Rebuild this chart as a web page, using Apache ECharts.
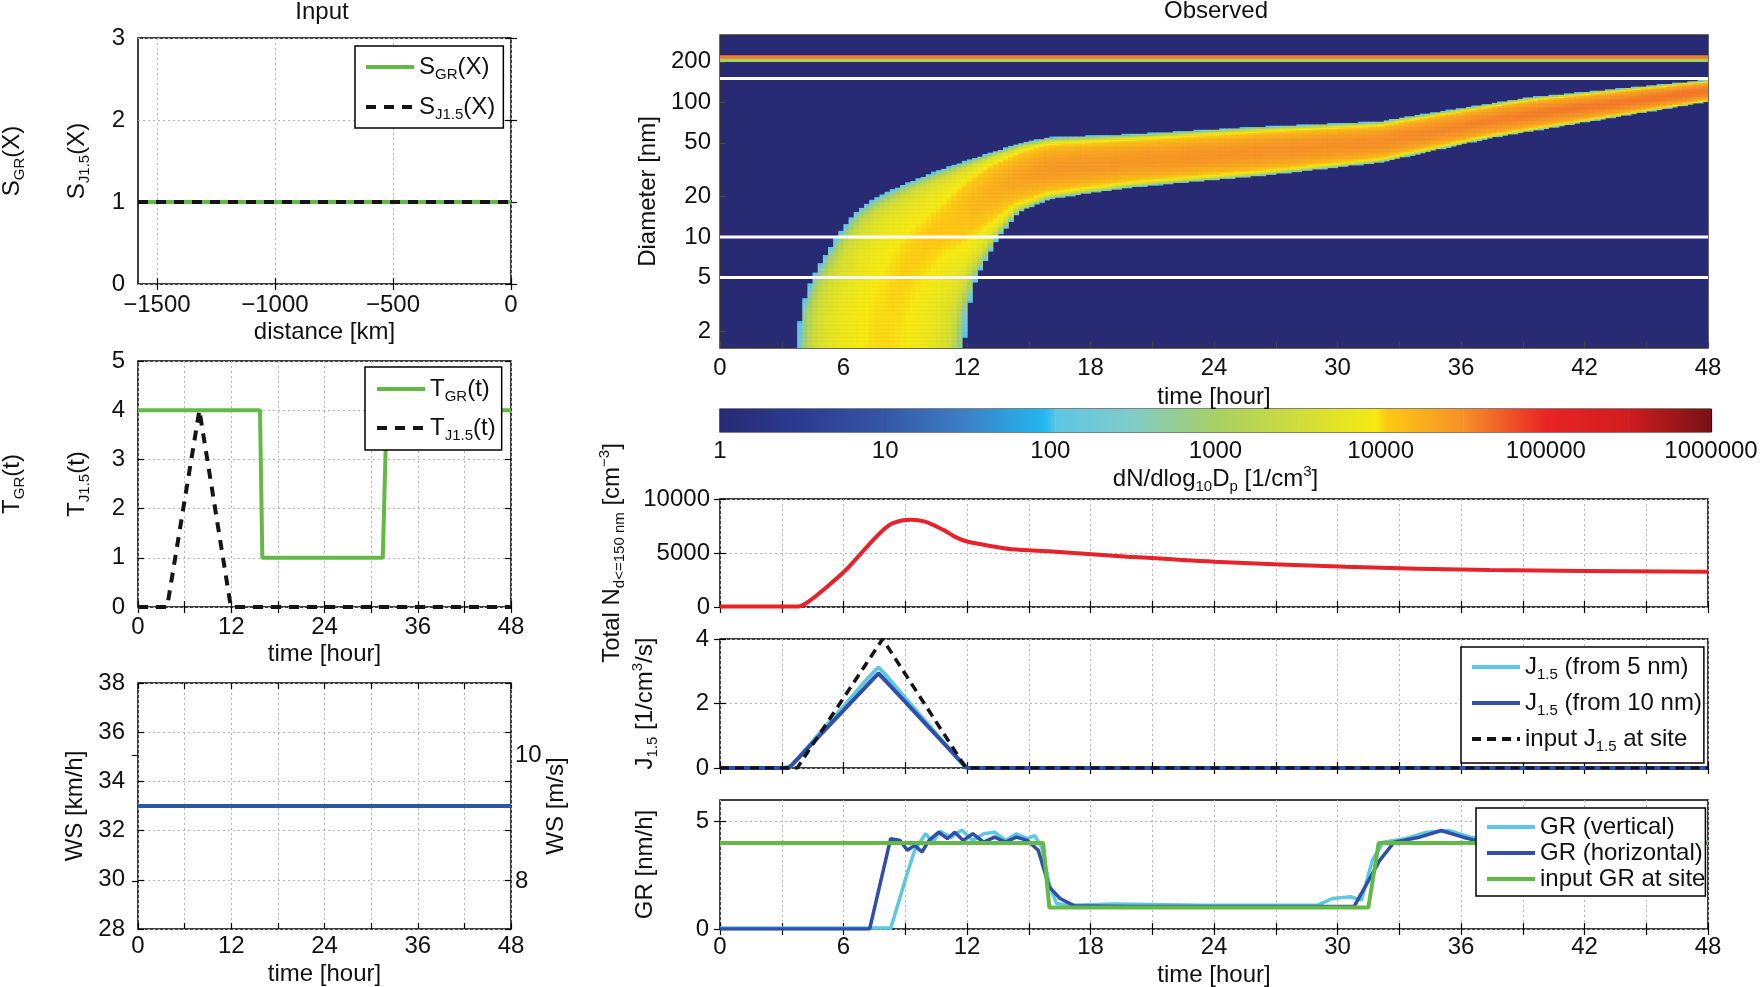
<!DOCTYPE html>
<html><head><meta charset="utf-8">
<script src="https://cdn.jsdelivr.net/npm/echarts@6/dist/echarts.min.js"></script>
<style>html,body{margin:0;padding:0;background:#fff}#c{width:1760px;height:987px}</style>
</head><body><div id="c"></div>
<script>
// ================= DATA =================
// Input panel 1: S(X)
const distanceMin = -1580;
const distanceTicks = [-1500, -1000, -500, 0];
const sGRDistance = [-1580, 0];
const sGRValues = [1, 1];
const sJDistance = [-1580, 0];
const sJValues = [1, 1];
// Input panel 2: T(t)  (also the "input at site" curves)
const inputGRHours = [0, 15.7, 16.0, 31.5, 32.0, 48];
const inputGRValues = [4, 4, 1, 1, 4, 4];
const inputJHours = [0, 3.75, 7.9, 11.95, 48];
const inputJValues = [0, 0, 4, 0, 0];
// Input panel 3: wind speed
const wsHours = [0, 48];
const wsKmh = [33, 33];
const wsMsTicks = [8, 10];
// Observed: banana edges (hour, diameter nm)
const upperEdgeHours = [3.8, 3.9, 4.5, 5.65, 6.6, 7.5, 8.75, 10.3, 11.75, 13.2, 14.75, 16.0, 19.9, 26.2, 32.05, 33.1, 39.3, 48.2];
const upperEdgeDiam  = [1.4, 2.8, 5.1, 10, 15.4, 19.3, 24, 30, 36, 42.6, 50.6, 55, 58, 66, 72, 77, 109, 148];
const lowerEdgeHours = [11.8, 12.0, 12.45, 13.5, 14.5, 16.0, 19.9, 26.2, 32.05, 37.5, 48.2];
const lowerEdgeDiam  = [1.4, 2.8, 5.1, 10, 15.4, 19.3, 23.5, 28.6, 36, 55, 103];
const ridgePeakHours = [0, 8, 11, 14, 16, 24, 32, 40, 48];
const ridgePeakLog   = [3.98, 4.0, 4.05, 4.3, 4.42, 4.45, 4.5, 4.58, 4.62];
const modeBandDiam = [201, 213, 224];
const modeBandLog = [3.0, 4.6];
const whiteLineDiam = [5, 10, 150];
const diamTicks = [2, 5, 10, 20, 50, 100, 200];
const diamMin = 1.5, diamMax = 316;
// colour scale (log10 dN/dlogDp)
const cbarPos    = [0, 0.5, 1, 1.5, 1.97, 2.03, 2.5, 3, 3.5, 3.97, 4.03, 4.5, 5, 5.5, 6];
const cbarColors = ['#282a73','#2b3c92','#3656a8','#3c82c8','#22b8f0','#5ec6e4','#80ccc8','#a8d064','#cfdc3a','#f6ea12','#fdca14','#f69028','#ea2424','#d01c20','#761214'];
// Total N
const totalNHours  = [0, 3.8, 4.3, 5.0, 6.1, 7.15, 7.85, 8.4, 9.26, 9.96, 10.85, 11.4, 12.0, 13.5, 14.2, 16.3, 19.8, 24.0, 30.4, 37.4, 48];
const totalNValues = [50, 50, 500, 1550, 3400, 5600, 7000, 7760, 8070, 7900, 7140, 6520, 6060, 5530, 5340, 5120, 4660, 4190, 3730, 3420, 3260];
// J1.5
const j5Hours  = [0, 3.1, 3.5, 4, 5, 6, 7, 7.5, 7.7, 8, 9, 10, 11, 11.8, 12, 48];
const j5Values = [0, 0, 0.08, 0.45, 1.2, 1.9, 2.65, 3.0, 3.12, 2.92, 2.17, 1.43, 0.69, 0.1, 0, 0];
const j10Hours  = [0, 3.35, 4, 5, 6, 7, 7.5, 7.7, 8, 9, 10, 11, 12, 48];
const j10Values = [0, 0, 0.44, 1.11, 1.79, 2.46, 2.8, 2.93, 2.73, 2.05, 1.36, 0.68, 0, 0];
// GR
const grVertHours  = [0, 8.3, 9.1, 9.46, 9.99, 10.34, 10.69, 11.22, 11.75, 12.28, 12.81, 13.34, 13.87, 14.4, 14.93, 15.28, 15.63, 15.99, 16.34, 17.05, 19.16, 23.4, 29.05, 29.75, 30.63, 31.16, 31.69, 32.22, 33.28, 34.34, 35.4, 36.46, 38, 42, 48];
const grVertValues = [0.05, 0.05, 2.6, 3.66, 4.43, 4.04, 4.55, 4.27, 4.61, 4.12, 4.43, 4.5, 4.12, 4.43, 4.2, 4.35, 3.81, 2.11, 1.19, 1.11, 1.16, 1.11, 1.11, 1.42, 1.5, 1.34, 3.19, 4.04, 4.2, 4.5, 4.58, 4.27, 4.2, 4.1, 4.05];
const grHorHours  = [0, 7.27, 8.29, 8.75, 9.1, 9.46, 9.81, 10.16, 10.62, 11.05, 11.4, 11.82, 12.28, 12.81, 13.34, 13.87, 14.4, 14.93, 15.46, 15.99, 16.52, 17.22, 19.87, 26.93, 30.81, 31.34, 32.05, 32.75, 33.99, 35.04, 36.1, 36.7, 40, 48];
const grHorValues = [0, 0, 4.2, 4.12, 3.66, 3.89, 3.58, 4.12, 4.5, 4.2, 4.5, 4.12, 4.43, 4.04, 4.27, 4.04, 4.27, 4.12, 3.66, 1.96, 1.42, 1.08, 1.05, 1.05, 1.05, 1.96, 3.19, 4.04, 4.27, 4.58, 4.27, 4.12, 4.0, 4.0];

// ================= HELPERS =================
const FONT = '"Liberation Sans", Arial, Helvetica, sans-serif';
const FS = 24;
const GREEN = '#62b946', BLACK = '#151515', CYAN = '#5cc8e2', BLUE = '#2f4fa8', RED = '#e8222a', WSBLUE = '#2f56a6';
const pairs = (xs, ys) => xs.map((x, i) => [x, ys[i]]);
const L10 = Math.log10;
const LOG_MIN = L10(diamMin), LOG_MAX = L10(diamMax);

function hex2rgb(h){return [parseInt(h.substr(1,2),16),parseInt(h.substr(3,2),16),parseInt(h.substr(5,2),16)];}
const cbarRgb = cbarColors.map(hex2rgb);
function cmap(v){
  if (v <= cbarPos[0]) return cbarColors[0];
  for (let i = 0; i < cbarPos.length - 1; i++) {
    if (v <= cbarPos[i+1]) {
      const f = (v - cbarPos[i]) / (cbarPos[i+1] - cbarPos[i]);
      const a = cbarRgb[i], b = cbarRgb[i+1];
      return 'rgb(' + [0,1,2].map(k => Math.round(a[k] + (b[k]-a[k])*f)).join(',') + ')';
    }
  }
  return cbarColors[cbarColors.length-1];
}
function interp(xs, ys, x){
  if (x <= xs[0]) return ys[0];
  for (let i = 0; i < xs.length-1; i++) if (x <= xs[i+1]) return ys[i] + (ys[i+1]-ys[i])*(x-xs[i])/(xs[i+1]-xs[i]);
  return ys[ys.length-1];
}
// banana cells (value field derived from the read edges)
const KX = 988/48, KY = 313/(LOG_MAX-LOG_MIN);
const toPx = (h, d) => [h*KX, L10(d)*KY];
const upperPx = upperEdgeHours.map((h,i)=>toPx(h, upperEdgeDiam[i]));
const lowerPx = lowerEdgeHours.map((h,i)=>toPx(h, lowerEdgeDiam[i]));
const polyPx = upperPx.concat(lowerPx.slice().reverse());
function segDist(p,a,b){
  const dx=b[0]-a[0], dy=b[1]-a[1];
  let t=((p[0]-a[0])*dx+(p[1]-a[1])*dy)/(dx*dx+dy*dy); t=Math.max(0,Math.min(1,t));
  const x=a[0]+t*dx-p[0], y=a[1]+t*dy-p[1]; return Math.sqrt(x*x+y*y);
}
function lineDist(p, pts){let m=1e9; for(let i=0;i<pts.length-1;i++) m=Math.min(m,segDist(p,pts[i],pts[i+1])); return m;}
function inside(p, poly){
  let c=false;
  for(let i=0,j=poly.length-1;i<poly.length;j=i++){
    const a=poly[i], b=poly[j];
    if(((a[1]>p[1])!==(b[1]>p[1])) && (p[0] < (b[0]-a[0])*(p[1]-a[1])/(b[1]-a[1])+a[0])) c=!c;
  }
  return c;
}
const DT = 0.25, DL = 0.01;
const heatCells = [];
for (let i = 0; i < 48/DT; i++) {
  const h = i*DT;
  const hc = h + DT/2;
  const peak = interp(ridgePeakHours, ridgePeakLog, hc);
  for (let lg = LOG_MIN; lg < LOG_MAX; lg += DL) {
    const p = [hc*KX, (lg+DL/2)*KY];
    if (!inside(p, polyPx)) continue;
    const dU = lineDist(p, upperPx), dLo = lineDist(p, lowerPx);
    const u = Math.abs(dU - dLo)/(dU + dLo);
    const v = peak - 0.6*u*u - (peak - 2.6)*Math.pow(u, 12);
    heatCells.push([h, lg, h+DT, Math.min(lg+DL, LOG_MAX), v]);
  }
}
for (let k = 0; k < modeBandLog.length; k++) {
  heatCells.push([0, L10(modeBandDiam[k]), 48, L10(modeBandDiam[k+1]), modeBandLog[k]]);
}
const cbarSegments = cbarPos.slice(0,-1).map((p,i)=>[p, cbarPos[i+1], i]);

// ================= STYLE HELPERS =================
const rich = {
  sub: {fontSize: 15, lineHeight: 12, verticalAlign: 'bottom', fontFamily: FONT, color: '#111'},
  sup: {fontSize: 15, lineHeight: 12, verticalAlign: 'top', fontFamily: FONT, color: '#111'}
};
const txt = () => ({fontSize: FS, fontFamily: FONT, color: '#111', lineHeight: 30, rich});
const lbl = (extra) => Object.assign({color: '#111', fontSize: FS, fontFamily: FONT, margin: 9, formatter: v => String(v)}, extra||{});
const tick = {show: true, inside: true, length: 6, lineStyle: {color: '#000', width: 1.2}};
const dotted = {show: true, lineStyle: {color: '#b5b5b5', type: [2, 3], width: 1}};
const noLine = {show: false};
const gridBase = {show: true, borderColor: '#000', borderWidth: 1.5, backgroundColor: 'transparent', outerBoundsMode: 'none', containLabel: false};

function xTime(grid, showLabels, labelEvery, tickEvery, name, nameGap, margin){
  return {type: 'value', gridIndex: grid, min: 0, max: 48, interval: tickEvery,
    axisLine: noLine, axisTick: tick, splitLine: dotted,
    axisLabel: lbl({show: showLabels, margin: margin||9, formatter: v => (v % labelEvery === 0 ? String(v) : '')}),
    name: name||'', nameLocation: 'middle', nameGap: nameGap||33, nameTextStyle: txt(), nameMoveOverlap: false};
}
function yVal(grid, min, max, interval, name, nameGap, extra){
  return Object.assign({type: 'value', gridIndex: grid, min, max, interval,
    axisLine: noLine, axisTick: tick, splitLine: dotted,
    axisLabel: lbl({margin: 13}),
    name: name||'', nameLocation: 'middle', nameRotate: 90, nameGap: nameGap||50, nameTextStyle: txt(), nameMoveOverlap: false}, extra||{});
}
function yNameOnly(grid, min, max, name, nameGap){
  return {type: 'value', gridIndex: grid, min, max, position: 'left',
    axisLine: noLine, axisTick: noLine, axisLabel: noLine, splitLine: noLine,
    name, nameLocation: 'middle', nameRotate: 90, nameGap, nameTextStyle: txt(), nameMoveOverlap: false};
}
// mirrored tick marks on the top / right edges of a box
function mirror(kind, grid, min, max, interval, customValues){
  const t = Object.assign({}, tick, customValues ? {customValues} : {});
  return {type: 'value', gridIndex: grid, position: kind === 'x' ? 'top' : 'right', min, max, interval: interval || null,
    axisLine: noLine, axisLabel: {show: false}, splitLine: noLine, axisTick: t, name: ''};
}
function legend(left, top, padding, itemGap, names, labels, lineH){
  return {orient: 'vertical', left, top, padding, itemGap, itemWidth: 48, itemHeight: 14, z: 20,
    backgroundColor: '#fff', borderColor: '#000', borderWidth: 1.5, borderRadius: 0,
    selectedMode: false, data: names, formatter: n => labels[n],
    lineStyle: {width: 4}, itemStyle: {opacity: 0, borderWidth: 0},
    textStyle: {fontSize: FS, fontFamily: FONT, color: '#111', lineHeight: lineH||30, rich}};
}
const lineS = (name, xi, yi, data, color, width, type, z, smooth) => ({type: 'line', name, xAxisIndex: xi, yAxisIndex: yi,
  data, symbol: 'none', showSymbol: false, smooth: smooth || false, lineStyle: {color, width, type: type||'solid'}, itemStyle: {color, opacity: 0}, z: z||3, animation: false});

// ================= OPTION =================
const option = {
  animation: false,
  backgroundColor: '#fff',
  textStyle: {fontFamily: FONT},
  graphic: [
    {type: 'text', x: 322, y: 12, style: {text: 'Input', font: FS + 'px ' + FONT, fill: '#111', textAlign: 'center', textVerticalAlign: 'middle'}},
    {type: 'text', x: 1216, y: 11, style: {text: 'Observed', font: FS + 'px ' + FONT, fill: '#111', textAlign: 'center', textVerticalAlign: 'middle'}}
  ],
  grid: [
    Object.assign({left: 138, top: 38, width: 373, height: 246}, gridBase),
    Object.assign({left: 138, top: 361, width: 373, height: 246}, gridBase),
    Object.assign({left: 138, top: 683, width: 373, height: 246}, gridBase),
    Object.assign({}, gridBase, {left: 720, top: 35, width: 988, height: 313, backgroundColor: cbarColors[0], borderColor: '#333'}),
    Object.assign({}, gridBase, {left: 720, top: 409, width: 991, height: 23, borderWidth: 1.2}),
    Object.assign({left: 720, top: 499, width: 988, height: 108}, gridBase),
    Object.assign({left: 720, top: 639, width: 988, height: 129}, gridBase),
    Object.assign({left: 720, top: 800, width: 988, height: 129}, gridBase)
  ],
  xAxis: [
    {type: 'value', gridIndex: 0, min: distanceMin, max: 0,
      axisLine: noLine, axisTick: Object.assign({customValues: distanceTicks}, tick), splitLine: dotted,
      axisLabel: lbl({customValues: distanceTicks, margin: 9, formatter: v => v < 0 ? '\u2212' + Math.abs(v) : String(v)}),
      name: 'distance [km]', nameLocation: 'middle', nameGap: 33, nameTextStyle: txt(), nameMoveOverlap: false},
    xTime(1, true, 12, 6, 'time [hour]', 32, 8),
    xTime(2, true, 12, 6, 'time [hour]', 30, 5),
    Object.assign(xTime(3, true, 6, 3, 'time [hour]', 34, 8), {splitLine: noLine, axisTick: {show: true, inside: true, length: 6, lineStyle: {color: '#444', width: 1.2}}}),
    {type: 'value', gridIndex: 4, min: 0, max: 6, interval: 1, axisLine: noLine, axisTick: noLine,
      splitLine: {show: true, lineStyle: {color: '#000', width: 1.2}},
      axisLabel: lbl({margin: 7, formatter: v => String(Math.round(Math.pow(10, v)))}),
      name: 'dN/dlog{sub|10}D{sub|p} [1/cm{sup|3}]', nameLocation: 'middle', nameGap: 32, nameTextStyle: txt(), nameMoveOverlap: false},
    xTime(5, false, 6, 3),
    xTime(6, false, 6, 3),
    xTime(7, true, 6, 3, 'time [hour]', 31, 6),
    // mirrored top ticks
    mirror('x', 0, distanceMin, 0, null, distanceTicks),
    mirror('x', 1, 0, 48, 6),
    mirror('x', 2, 0, 48, 6),
    mirror('x', 5, 0, 48, 3),
    mirror('x', 6, 0, 48, 3),
    mirror('x', 7, 0, 48, 3)
  ],
  yAxis: [
    yVal(0, 0, 3, 1, 'S{sub|J1.5}(X)', 46),
    yNameOnly(0, 0, 3, 'S{sub|GR}(X)', 111),
    yVal(1, 0, 5, 1, 'T{sub|J1.5}(t)', 46),
    yNameOnly(1, 0, 5, 'T{sub|GR}(t)', 111),
    yVal(2, 28, 38, 2, 'WS [km/h]', 48),
    {type: 'value', gridIndex: 2, position: 'right', min: 7.236, max: 11.15,
      axisLine: noLine, axisTick: Object.assign({customValues: wsMsTicks}, tick), splitLine: noLine,
      axisLabel: lbl({customValues: wsMsTicks, margin: 4}),
      name: 'WS [m/s]', nameLocation: 'middle', nameRotate: 90, nameGap: 30, nameTextStyle: txt(), nameMoveOverlap: false},
    {type: 'value', gridIndex: 3, min: LOG_MIN, max: LOG_MAX,
      axisLine: noLine, axisTick: {show: true, inside: true, length: 6, customValues: diamTicks.map(L10), lineStyle: {color: '#444', width: 1.2}},
      splitLine: noLine,
      axisLabel: lbl({customValues: diamTicks.map(L10), margin: 9, formatter: v => String(Math.round(Math.pow(10, v)))}),
      name: 'Diameter [nm]', nameLocation: 'middle', nameRotate: 90, nameGap: 57, nameTextStyle: txt(), nameMoveOverlap: false},
    {type: 'value', gridIndex: 4, min: 0, max: 1, show: false},
    yVal(5, 0, 10000, 5000, 'Total N{sub|d<=150 nm} [cm{sup|\u22123}]', 93, {axisLabel: lbl({margin: 10})}),
    yVal(6, 0, 4, 2, 'J{sub|1.5} [1/cm{sup|3}/s]', 60, {axisLabel: lbl({margin: 11})}),
    Object.assign(yVal(7, 0, 6, 1, 'GR [nm/h]', 60, {axisLabel: lbl({margin: 11, customValues: [0, 5]})}),
      {interval: null, axisTick: Object.assign({customValues: [0, 5]}, tick)}),
    // mirrored right ticks
    mirror('y', 0, 0, 3, 1),
    mirror('y', 1, 0, 5, 1),
    mirror('y', 2, 28, 38, 2),
    mirror('y', 5, 0, 10000, 5000),
    mirror('y', 6, 0, 4, 2),
    mirror('y', 7, 0, 6, null, [0, 5])
  ],
  legend: [
    legend(355, 46, [6, 8, 6, 9], 10, ['sgr', 'sj'], {sgr: 'S{sub|GR}(X)', sj: 'S{sub|J1.5}(X)'}),
    legend(365, 367, [7, 6, 7, 10], 9, ['tgr', 'tj'], {tgr: 'T{sub|GR}(t)', tj: 'T{sub|J1.5}(t)'}),
    legend(1461, 647, [5, 2, 9, 9], 6, ['j5', 'j10', 'jin'], {j5: 'J{sub|1.5} (from 5 nm)', j10: 'J{sub|1.5} (from 10 nm)', jin: 'input J{sub|1.5} at site'}),
    legend(1476, 808, [6, 0, 4, 9], 0, ['grv', 'grh', 'grin'], {grv: 'GR (vertical)', grh: 'GR (horizontal)', grin: 'input GR at site'}, 26)
  ],
  series: [
    lineS('sgr', 0, 0, pairs(sGRDistance, sGRValues), GREEN, 4),
    lineS('sj', 0, 0, pairs(sJDistance, sJValues), BLACK, 4, [10, 8], 4),
    lineS('tgr', 1, 2, pairs(inputGRHours, inputGRValues), GREEN, 4),
    lineS('tj', 1, 2, pairs(inputJHours, inputJValues), BLACK, 4, [10, 8], 4),
    lineS('ws', 2, 4, pairs(wsHours, wsKmh), WSBLUE, 4),
    {type: 'custom', name: 'heat', xAxisIndex: 3, yAxisIndex: 6, data: heatCells, clip: true, progressive: 0, animation: false, z: 2,
      encode: {x: [0, 2], y: [1, 3]},
      renderItem: (params, api) => {
        const a = api.coord([api.value(0), api.value(3)]);
        const b = api.coord([api.value(2), api.value(1)]);
        return {type: 'rect', shape: {x: a[0], y: a[1], width: b[0]-a[0]+0.6, height: b[1]-a[1]+0.6},
          style: {fill: cmap(api.value(4))}};
      }},
    ...whiteLineDiam.map((d, i) => lineS('wl' + i, 3, 6, [[0, L10(d)], [48, L10(d)]], '#ffffff', 3, 'solid', 5)),
    {type: 'custom', name: 'cbar', xAxisIndex: 4, yAxisIndex: 7, data: cbarSegments, animation: false, z: 1,
      encode: {x: [0, 1]},
      renderItem: (params, api) => {
        const i = api.value(2);
        const a = api.coord([api.value(0), 1]);
        const b = api.coord([api.value(1), 0]);
        return {type: 'rect', shape: {x: a[0], y: a[1], width: b[0]-a[0]+0.5, height: b[1]-a[1]},
          style: {fill: new echarts.graphic.LinearGradient(0, 0, 1, 0, [{offset: 0, color: cbarColors[i]}, {offset: 1, color: cbarColors[i+1]}])}};
      }},
    lineS('totaln', 5, 8, pairs(totalNHours, totalNValues), RED, 4, 'solid', 3, 0.3),
    lineS('j5', 6, 9, pairs(j5Hours, j5Values), CYAN, 4),
    lineS('j10', 6, 9, pairs(j10Hours, j10Values), BLUE, 4),
    lineS('jin', 6, 9, pairs(inputJHours, inputJValues), BLACK, 3.5, [9, 6], 4),
    lineS('grv', 7, 10, pairs(grVertHours, grVertValues), CYAN, 3.5),
    lineS('grh', 7, 10, pairs(grHorHours, grHorValues), BLUE, 3.5),
    lineS('grin', 7, 10, pairs(inputGRHours, inputGRValues), GREEN, 4, 'solid', 4)
  ]
};
const chart = echarts.init(document.getElementById('c'), null, {renderer: 'canvas', width: 1760, height: 987});
chart.setOption(option);
</script>
</body></html>
